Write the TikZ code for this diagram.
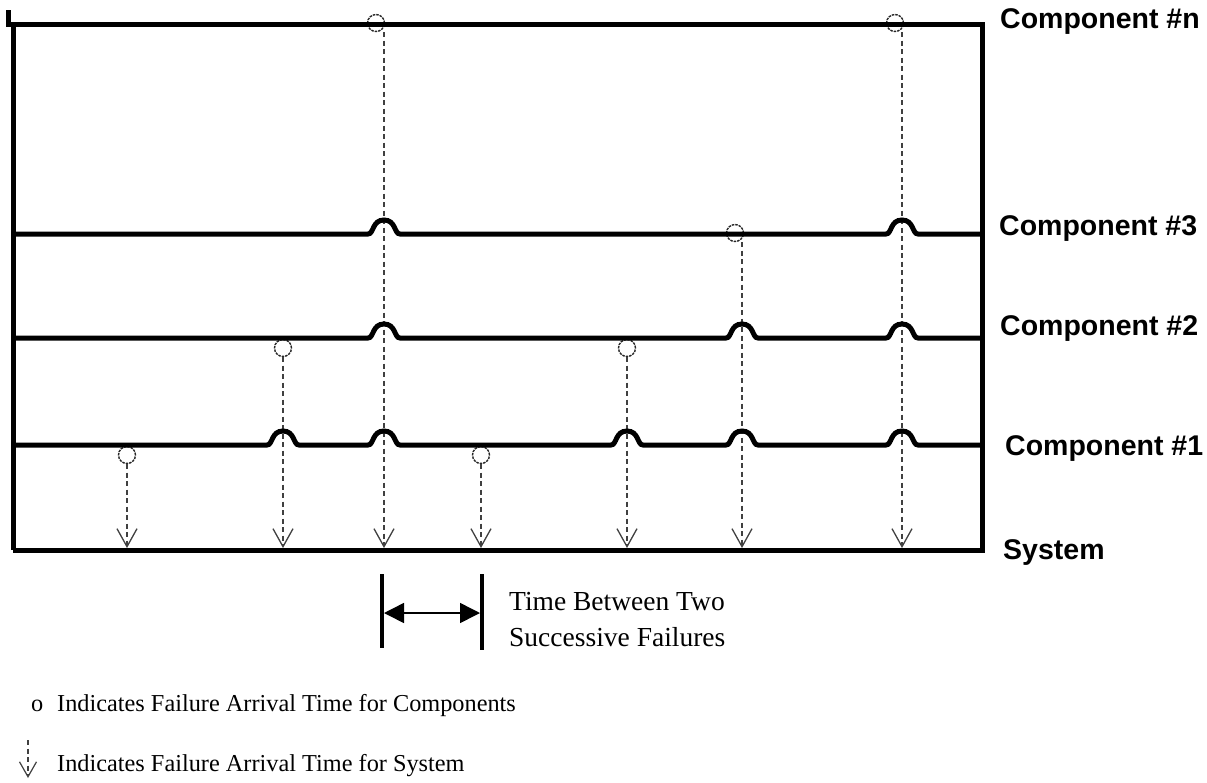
\documentclass[tikz,border=0pt]{standalone}
\usepackage{fontspec}
\setmainfont{Liberation Serif}
\newfontfamily\labelfont{Liberation Sans}
\usetikzlibrary{arrows.meta}
\begin{document}
\begin{tikzpicture}[x=1pt,y=-1pt,
  rail/.style={line width=5pt},
  hop/.style 2 args={insert path={-- ({#1-16},#2)
      .. controls ({#1-10},#2) and ({#1-12},{#2-14}) .. (#1,{#2-14})
      .. controls ({#1+12},{#2-14}) and ({#1+10},#2) .. ({#1+16},#2)}},
  fcirc/.style={circle, draw=black!85, line width=1.4pt,
      dash pattern=on 2.5pt off 1pt, minimum size=17pt, inner sep=0pt},
  fail/.style={draw=black!75, line width=1.5pt, dash pattern=on 5pt off 3.5pt,
      -{Straight Barb[length=18pt,width=20pt,line width=1.3pt]}},
  comp/.style={anchor=west, inner sep=0pt,
      font=\labelfont\bfseries\fontsize{28.5}{32}\selectfont},
  note/.style={anchor=west, inner sep=0pt, align=left,
      font=\fontsize{24.3}{36}\selectfont},
  span/.style={line width=1.5pt,
      {Triangle[length=20pt,width=20pt]}-{Triangle[length=20pt,width=20pt]}},
  bar/.style={line width=4pt}]

\useasboundingbox (0,0) rectangle (1207,782);

% failure points of the components
\node[fcirc] (cn1) at (376,23) {};
\node[fcirc] (cn2) at (895,23) {};
\node[fcirc] (cc1) at (735,233) {};
\node[fcirc] (cb1) at (283,348) {};
\node[fcirc] (cb2) at (627,348) {};
\node[fcirc] (ca1) at (127,455) {};
\node[fcirc] (ca2) at (481,455) {};

% failure arrivals on the system line
\coordinate (s1) at (127,548);
\coordinate (s2) at (283,548);
\coordinate (s3) at (384,548);
\coordinate (s4) at (481,548);
\coordinate (s5) at (627,548);
\coordinate (s6) at (742,548);
\coordinate (s7) at (902,548);

\draw[fail] (ca1.south) -- (s1);
\draw[fail] (cb1.south) -- (s2);
\draw[fail] (cn1.south -| s3) -- (s3);
\draw[fail] (ca2.south) -- (s4);
\draw[fail] (cb2.south) -- (s5);
\draw[fail] (cc1.south -| s6) -- (s6);
\draw[fail] (cn2.south -| s7) -- (s7);

% frame: component #n on top, system at the bottom
\draw[rail] (8,10) -- (8,24) -- (982,24) -- (982,550) -- (13,550);
\draw[rail] (13,24) -- (13,550);

% component lines hopping over the failure lines
\draw[rail] (13,234) [hop={384}{234}] [hop={902}{234}] -- (982,234);
\draw[rail] (13,338) [hop={384}{338}] [hop={742}{338}] [hop={902}{338}] -- (982,338);
\draw[rail] (13,445) [hop={283}{445}] [hop={384}{445}] [hop={627}{445}]
            [hop={742}{445}] [hop={902}{445}] -- (982,445);

% line labels
\node[comp] (ln) at (1000,22) {Component \#n};
\node[comp] (l3) at (999,229) {Component \#3};
\node[comp] (l2) at (1000,329) {Component \#2};
\node[comp] (l1) at (1005,448) {Component \#1};
\node[comp] (ls) at (1003,552) {System};

% time between two failures
\coordinate (bl0) at (382,574);
\coordinate (bl1) at (382,648);
\coordinate (br0) at (482,574);
\coordinate (br1) at (482,650);
\draw[bar] (bl0) -- (bl1);
\draw[bar] (br0) -- (br1);
\coordinate (ta) at (384,613);
\coordinate (tb) at (480,613);
\draw[span] (ta) -- (tb);
\node[note, font=\fontsize{27.5}{36}\selectfont] (tbw) at (509,620)
  {Time Between Two\\Successive Failures};

% legend
\node[note] (lgo) at (31,706) {o};
\node[note] (lgc) at (57,706) {Indicates Failure Arrival Time for Components};
\coordinate (ik0) at (28,740);
\coordinate (ik1) at (28,778);
\draw[fail, -{Straight Barb[length=15pt,width=17pt,line width=1.2pt]}] (ik0) -- (ik1);
\node[note] (lgs) at (57,766) {Indicates Failure Arrival Time for System};
\end{tikzpicture}
\end{document}
